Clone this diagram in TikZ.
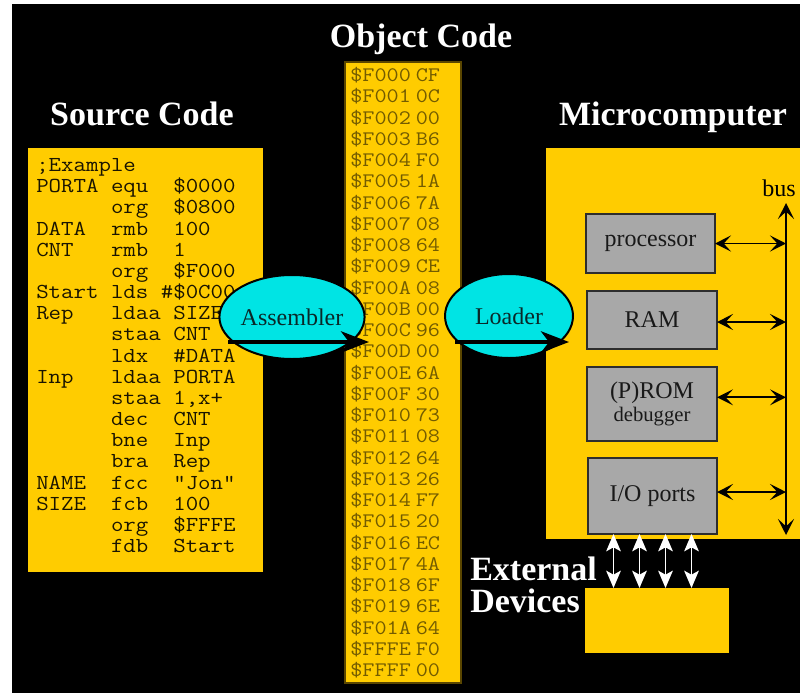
\documentclass[tikz,border=0pt]{standalone}
\usepackage{fontspec}
\usepackage{graphicx}
\setmainfont{Liberation Serif}
\usetikzlibrary{arrows.meta,shapes.geometric}
\definecolor{ylw}{RGB}{255,204,0}
\definecolor{cyn}{RGB}{0,228,228}
\definecolor{gry}{RGB}{168,168,168}
\definecolor{objtxt}{RGB}{115,92,0}
\definecolor{srctxt}{RGB}{25,20,0}
\frenchspacing
\begin{document}
\begin{tikzpicture}[x=0.75pt,y=-0.75pt,
  title/.style={text=white,font=\fontsize{25.5}{28}\selectfont\bfseries,inner sep=0},
  ybox/.style={rectangle,fill=ylw,inner sep=0,outer sep=0},
  gbox/.style={rectangle,fill=gry,draw={rgb,255:red,45;green,45;blue,45},line width=1.3pt,inner sep=0,outer sep=0,font=\fontsize{18}{20}\selectfont,text={rgb,255:red,25;green,25;blue,25}},
  srcline/.style={anchor=base west,inner sep=0,text=srctxt,font=\ttfamily\fontsize{16}{18}\selectfont},
  objline/.style={anchor=base west,inner sep=0,text=objtxt,font=\ttfamily\fontsize{15.5}{17}\selectfont},
  oval/.style={ellipse,fill=cyn,draw=black,line width=1.5pt,inner sep=0,minimum width=96pt,minimum height=63pt,font=\fontsize{18}{20}\selectfont,text={rgb,255:red,10;green,40;blue,40}},
  bigarrow/.style={line width=3pt,-{Stealth[length=21pt,width=16pt,inset=6pt]}},
  busarrow/.style={line width=1.4pt,{Stealth[length=12pt,width=12pt,inset=5.5pt]}-{Stealth[length=12pt,width=12pt,inset=5.5pt]}},
  whitearrow/.style={white,line width=1.3pt,{Stealth[length=13pt,width=11pt,inset=3pt]}-{Stealth[length=13pt,width=11pt,inset=3pt]}}
]
\useasboundingbox (0,0) rectangle (800,693);
\fill[white] (0,0) rectangle (800,693);
\fill[black] (12,4) rectangle (800,693);

% titles
\node[title,anchor=base] (tobj) at (421,47) {Object Code};
\node[title,anchor=base] (tsrc) at (142,125) {Source Code};
\node[title,anchor=base] (tmic) at (673,125) {Microcomputer};
\node[title,anchor=base west] (text1) at (470,580) {External};
\node[title,anchor=base west] (text2) at (470,612) {Devices};

% main boxes
\node[ybox,minimum width=176.25pt,minimum height=318pt] (src) at (145.5,360) {};
\node[ybox,draw={rgb,255:red,90;green,70;blue,0},line width=0.8pt,minimum width=87pt,minimum height=465.75pt] (obj) at (403,372.5) {};
\node[ybox,minimum width=190.5pt,minimum height=293.25pt] (mic) at (673,343.5) {};
\node[ybox,minimum width=108pt,minimum height=48.75pt] (ext) at (657,620.5) {};

% source code
\foreach \t [count=\i] in {
  {;Example},
  {PORTA~equ~~\$0000},
  {~~~~~~org~~\$0800},
  {DATA~~rmb~~100},
  {CNT~~~rmb~~1},
  {~~~~~~org~~\$F000},
  {Start~lds~\#\$0C00},
  {Rep~~~ldaa~SIZE},
  {~~~~~~staa~CNT},
  {~~~~~~ldx~~\#DATA},
  {Inp~~~ldaa~PORTA},
  {~~~~~~staa~1,x+},
  {~~~~~~dec~~CNT},
  {~~~~~~bne~~Inp},
  {~~~~~~bra~~Rep},
  {NAME~~fcc~~"Jon"},
  {SIZE~~fcb~~100},
  {~~~~~~org~~\$FFFE},
  {~~~~~~fdb~~Start}}
  \node[srcline] (s\i) at (36,{171.5+(\i-1)*21.17}) {\scalebox{1.134}[1]{\t}};

% object code
\foreach \a/\b [count=\i] in {F000/CF,F001/0C,F002/00,F003/B6,F004/F0,F005/1A,F006/7A,F007/08,F008/64,F009/CE,F00A/08,F00B/00,F00C/96,F00D/00,F00E/6A,F00F/30,F010/73,F011/08,F012/64,F013/26,F014/F7,F015/20,F016/EC,F017/4A,F018/6F,F019/6E,F01A/64,FFFE/F0,FFFF/00}
  \node[objline] (o\i) at (350,{81.5+(\i-1)*21.25}) {\scalebox{1.14}[1]{\$\a\hspace{3.2pt}\b}};

% microcomputer parts
\node[gbox,minimum width=96.75pt,minimum height=44.25pt] (proc) at (650.5,243.5) {processor};
\node[gbox,minimum width=97.5pt,minimum height=43.5pt] (ram) at (652,320) {RAM};
\node[gbox,minimum width=97.5pt,minimum height=55.5pt,align=center] (prom) at (652,404)
  {(P)ROM\\[-3pt]{\fontsize{15.5}{17}\selectfont debugger}};
\node[gbox,minimum width=96.75pt,minimum height=57pt] (io) at (652.5,496) {I/O ports\hspace{6pt}};

% bus
\coordinate (bustop) at (786,203);
\coordinate (busbot) at (786,535);
\draw[busarrow] (busbot) -- (bustop);
\node[inner sep=0,font=\fontsize{18}{20}\selectfont,text=black] (buslbl) at (779,188) {bus};
\draw[busarrow] (proc.east) -- (proc.east -| bustop);
\draw[busarrow] ([yshift=-1.5pt]ram.east) -- ([yshift=-1.5pt]ram.east -| bustop);
\draw[busarrow] ([yshift=5pt]prom.east) -- ([yshift=5pt]prom.east -| bustop);
\draw[busarrow] ([yshift=3pt]io.east) -- ([yshift=3pt]io.east -| bustop);

% I/O to external devices
\foreach \dx [count=\k] in {-29.25,-9.75,9.75,29.25} {
  \coordinate (iop\k) at ([xshift=\dx pt]io.south);
  \coordinate (exp\k) at (ext.north -| iop\k);
  \draw[whitearrow] (iop\k) -- (exp\k);
}

% assembler and loader
\node[oval] (asm) at (292,317) {Assembler};
\node[oval] (ldr) at (509,316) {Loader};
\coordinate (a1s) at (228,342);
\coordinate (a1e) at (369,342);
\coordinate (a2s) at (455,342);
\coordinate (a2e) at (569,342);
\draw[bigarrow] (a1s) -- (a1e);
\draw[bigarrow] (a2s) -- (a2e);
\end{tikzpicture}
\end{document}
